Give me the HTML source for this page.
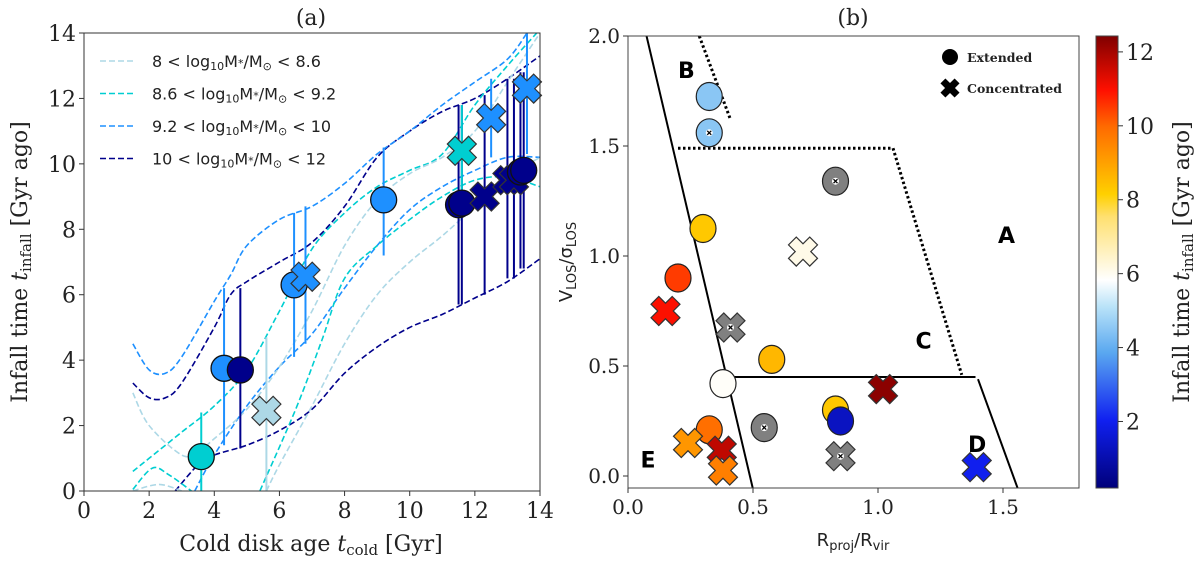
<!DOCTYPE html>
<html><head><meta charset="utf-8"><style>
body{margin:0;background:#fff;}
svg text{font-family:"DejaVu Serif","Liberation Serif",serif;}
.sans{font-family:"DejaVu Sans","Liberation Sans",sans-serif !important;}
</style></head><body>
<svg id="fig" width="1200" height="559" viewBox="0 0 1200 559" xmlns="http://www.w3.org/2000/svg">
<defs>
<linearGradient id="cmap" x1="0" y1="1" x2="0" y2="0">
<stop offset="0" stop-color="#00007a"/>
<stop offset="0.15" stop-color="#1020f0"/>
<stop offset="0.3" stop-color="#5aa8f0"/>
<stop offset="0.4" stop-color="#b8e2f8"/>
<stop offset="0.46" stop-color="#ffffff"/>
<stop offset="0.6" stop-color="#ffe070"/>
<stop offset="0.65" stop-color="#ffd000"/>
<stop offset="0.8" stop-color="#ff6a00"/>
<stop offset="0.88" stop-color="#ff1000"/>
<stop offset="1" stop-color="#800000"/>
</linearGradient>
</defs>
<g id="pa"></g>
<g id="pb"></g>
</svg>
<script>
// ---------- Panel (a) data ----------
const aPointX = [3.6, 4.3, 4.8, 5.6, 6.45, 6.8, 9.2, 11.5, 11.6, 11.6, 12.5, 12.3, 13.0, 13.2, 13.4, 13.5, 13.6];
const aPointY = [1.05, 3.75, 3.7, 2.45, 6.3, 6.55, 8.9, 8.75, 8.8, 10.4, 11.4, 9.0, 9.5, 9.5, 9.75, 9.8, 12.3];
const aErrLo = [0, 1.4, 1.3, 0, 4.1, 4.5, 7.2, 5.7, 5.7, 8.7, 10.2, 6.0, 6.5, 6.5, 6.8, 6.8, 10.3];
const aErrHi = [2.4, 6.2, 6.2, 4.7, 8.5, 8.7, 10.5, 11.8, 11.8, 11.8, 12.6, 12.1, 12.6, 12.6, 12.8, 12.8, 14];
const aShape = ['o','o','o','x','o','x','o','o','o','x','x','x','x','x','o','o','x'];
const aBin = [1,2,3,0,2,2,2,3,3,1,2,3,3,3,3,3,2];
const binColors = ['#add8e6','#00ced1','#1e90ff','#00008b'];
const binLabels = [['8','8.6'],['8.6','9.2'],['9.2','10'],['10','12']];
const curveX = {
 navyU:[1.5,2,2.5,3,4,4.5,5,6,7,8,9,10,11,12,13,14],
 navyL:[2.8,3.5,4,5,6,7,8,9,10,11,12,13,14],
 blueU:[1.5,2,2.5,3,4,4.5,5,6,7,8,9,10,11,12,13,13.6],
 blueL:[3.4,4,5,6,7,8,9,10,11,12,13,14],
 cyanU:[1.5,2,3,4,5,6,7,8,9,10,11,12,13,13.9],
 cyanL1:[1.5,2.1,2.6,3.3],
 cyanL2:[5.4,6.5,7.3,8,9,10,11,12,13,14],
 lightU:[1.5,2,3,3.5,4,5,6,7,8,9,10,11,12,13,14],
 lightL1:[1.5,2.3,3],
 lightL2:[5.6,6,7,8,9,10,11,12,13,14]
};
const curveY = {
 navyU:[3.3,2.85,2.85,3.3,5.0,6.0,6.4,7.0,7.6,8.7,10.2,11.0,11.6,12.0,12.6,13.3],
 navyL:[0,0.8,1.1,1.4,1.85,2.5,3.6,4.4,5.0,5.4,5.9,6.4,7.1],
 blueU:[4.5,3.7,3.6,4.1,5.8,6.6,7.5,8.3,8.7,9.4,10.3,11.0,11.8,12.5,13.2,14],
 blueL:[0,1.1,2.6,3.8,4.8,6.2,7.5,8.6,9.3,9.8,10.2,10.2],
 cyanU:[0.6,1.0,1.8,2.6,3.7,5.5,7.4,8.5,9.3,9.8,10.3,11.8,13.0,14],
 cyanL1:[0.05,0.7,0.5,0],
 cyanL2:[0,2.5,4.6,6.5,7.5,8.3,9.0,9.5,9.6,9.3],
 lightU:[3.0,2.0,1.1,1.2,1.6,2.5,3.8,5.5,7.5,8.9,9.7,10.2,11.0,12.5,14],
 lightL1:[0,0.2,0],
 lightL2:[0,0.8,2.6,4.5,6.0,7.0,7.8,8.7,9.6,10.2]
};
const curveBin = {navyU:3,navyL:3,blueU:2,blueL:2,cyanU:1,cyanL1:1,cyanL2:1,lightU:0,lightL1:0,lightL2:0};
const aTicks = [0,2,4,6,8,10,12,14];

// ---------- Panel (b) data ----------
const bX = [0.325,0.325,0.83,0.30,0.70,0.20,0.15,0.41,0.575,0.38,1.02,0.83,0.85,0.545,0.325,0.24,0.375,0.38,0.85,1.395];
const bY = [1.725,1.56,1.34,1.125,1.02,0.90,0.75,0.675,0.53,0.42,0.395,0.30,0.25,0.22,0.21,0.15,0.115,0.025,0.09,0.04];
const bInfall = [4.5,4.5,null,8.3,6.1,10.5,11.0,null,8.6,5.9,12.3,8.3,1.3,null,9.9,9.2,11.7,9.6,null,2.0];
const bShape = ['o','o','o','o','x','o','x','x','o','o','x','o','o','o','o','x','x','x','x','x'];
const bDot = [0,1,1,0,0,0,0,1,0,0,0,0,0,1,0,0,0,0,1,0];
const bXTicks = [0.0,0.5,1.0,1.5];
const bYTicks = [0.0,0.5,1.0,1.5,2.0];
const cbTicks = [2,4,6,8,10,12];
const regionLabels = ['B','A','C','D','E'];
const regionX = [0.2,1.48,1.15,1.36,0.05];
const regionY = [1.85,1.1,0.62,0.15,0.08];

const NS='http://www.w3.org/2000/svg';
function mk(tag, attrs, parent){const e=document.createElementNS(NS,tag);for(const k in attrs)e.setAttribute(k,attrs[k]);parent.appendChild(e);return e;}

const A={x0:84,x1:540,y0:491,y1:33};
const ax=v=>A.x0+(v/14)*(A.x1-A.x0);
const ay=v=>A.y0-(v/14)*(A.y0-A.y1);
const pa=document.getElementById('pa');
const clipA=mk('clipPath',{id:'clipA'},pa);
mk('rect',{x:A.x0,y:A.y1,width:A.x1-A.x0,height:A.y0-A.y1},clipA);

function smoothPath(xs,ys,fx,fy){
  const p=xs.map((x,i)=>[fx(x),fy(ys[i])]);
  let d='M'+p[0][0]+','+p[0][1];
  for(let i=0;i<p.length-1;i++){
    const p0=p[i-1]||p[i],p1=p[i],p2=p[i+1],p3=p[i+2]||p2;
    const c1=[p1[0]+(p2[0]-p0[0])/6,p1[1]+(p2[1]-p0[1])/6];
    const c2=[p2[0]-(p3[0]-p1[0])/6,p2[1]-(p3[1]-p1[1])/6];
    d+=' C'+c1[0]+','+c1[1]+' '+c2[0]+','+c2[1]+' '+p2[0]+','+p2[1];
  }
  return d;
}
const curvesG=mk('g',{'clip-path':'url(#clipA)'},pa);


for(const k in curveX){
  const c=mk('path',{d:smoothPath(curveX[k],curveY[k],ax,ay),fill:'none',stroke:binColors[curveBin[k]],'stroke-width':1.6,'stroke-dasharray':'6,3'},curvesG);
  
  
}
const ebG=mk('g',{'clip-path':'url(#clipA)'},pa);
for(let i=0;i<aPointX.length;i++){
  const l=mk('line',{x1:ax(aPointX[i]),x2:ax(aPointX[i]),y1:ay(aErrLo[i]),y2:ay(aErrHi[i]),stroke:binColors[aBin[i]],'stroke-width':2},ebG);
  
  
}
function crossPath(s,w){
  const pts=[[-w,-s],[w,-s],[w,-w],[s,-w],[s,w],[w,w],[w,s],[-w,s],[-w,w],[-s,w],[-s,-w],[-w,-w]];
  return 'M'+pts.map(p=>{const c=Math.SQRT1_2;return [(p[0]-p[1])*c,(p[0]+p[1])*c].join(',')}).join(' L')+' Z';
}
for(let i=0;i<aPointX.length;i++){
  const cx=ax(aPointX[i]),cy=ay(aPointY[i]);
  let m;
  if(aShape[i]==='o') m=mk('circle',{cx:cx,cy:cy,r:13,fill:binColors[aBin[i]],stroke:'#111','stroke-width':1.3},pa);
  else m=mk('path',{d:crossPath(15,5.5),transform:`translate(${cx},${cy})`,fill:binColors[aBin[i]],stroke:'#333','stroke-width':1.2},pa);
  
  
}
mk('rect',{x:A.x0,y:A.y1,width:A.x1-A.x0,height:A.y0-A.y1,fill:'none',stroke:'#333','stroke-width':1},pa);
aTicks.forEach(t=>{
  mk('line',{x1:ax(t),x2:ax(t),y1:A.y0,y2:A.y0+5,stroke:'#333'},pa);
  const tx=mk('text',{x:ax(t),y:A.y0+27,'text-anchor':'middle','font-size':22,fill:'#222'},pa);tx.textContent=t;
  
  
  mk('line',{x1:A.x0-5,x2:A.x0,y1:ay(t),y2:ay(t),stroke:'#333'},pa);
  const ty=mk('text',{x:A.x0-8,y:ay(t)+8,'text-anchor':'end','font-size':22,fill:'#222'},pa);ty.textContent=t;
  
  
});
binLabels.forEach((b,i)=>{
  const y=61+i*32.5;
  mk('line',{x1:100,x2:136,y1:y,y2:y,stroke:binColors[i],'stroke-width':1.6,'stroke-dasharray':'6,3'},pa);
  const t=mk('text',{x:152,y:y+6,'font-size':16,fill:'#222',class:'sans'},pa);
  t.innerHTML=`${b[0]} &lt; log<tspan font-size="11" dy="3">10</tspan><tspan dy="-3">M</tspan><tspan font-size="11">*</tspan>/M<tspan font-size="11" dy="3">⊙</tspan><tspan dy="-3"> &lt; ${b[1]}</tspan>`;
  
  
});
let t=mk('text',{x:311,y:25,'text-anchor':'middle','font-size':22,fill:'#222'},pa);t.textContent='(a)';


t=mk('text',{x:311,y:551,'text-anchor':'middle','font-size':22,fill:'#222'},pa);
t.innerHTML='Cold disk age <tspan font-style="italic">t</tspan><tspan font-size="15" dy="4">cold</tspan><tspan dy="-4"> [Gyr]</tspan>';


t=mk('text',{x:0,y:0,'text-anchor':'middle','font-size':22,fill:'#222',transform:'translate(27,262) rotate(-90)'},pa);
t.innerHTML='Infall time <tspan font-style="italic">t</tspan><tspan font-size="15" dy="4">infall</tspan><tspan dy="-4"> [Gyr ago]</tspan>';



// ---- Panel b
const B={x0:628,x1:1079,y0:488,y1:36};
const bx=v=>628+v*250;
const by=v=>476-v*220;
const pb=document.getElementById('pb');
const clipB=mk('clipPath',{id:'clipB'},pb);
mk('rect',{x:B.x0,y:B.y1,width:B.x1-B.x0,height:B.y0-B.y1},clipB);
const lg=mk('g',{'clip-path':'url(#clipB)',stroke:'#000','stroke-width':2,fill:'none'},pb);


mk('line',{x1:bx(0.07),y1:by(2.02),x2:bx(0.5),y2:by(-0.06)},lg);
mk('line',{x1:bx(0.42),y1:by(0.45),x2:bx(1.39),y2:by(0.45)},lg);
mk('line',{x1:bx(1.40),y1:by(0.44),x2:bx(1.56),y2:by(-0.06)},lg);
mk('polyline',{points:`${bx(0.285)},${by(2.0)} ${bx(0.41)},${by(1.62)}`,'stroke-dasharray':'2.5,2.5','stroke-width':3},lg);
mk('polyline',{points:`${bx(0.2)},${by(1.49)} ${bx(1.06)},${by(1.49)} ${bx(1.335)},${by(0.46)}`,'stroke-dasharray':'2.5,2.5','stroke-width':3},lg);
function cmapColor(v){
  const stops=[[0,[0,0,122]],[0.15,[16,32,240]],[0.3,[90,168,240]],[0.4,[184,226,248]],[0.46,[255,255,255]],[0.6,[255,224,112]],[0.65,[255,208,0]],[0.8,[255,106,0]],[0.88,[255,16,0]],[1,[128,0,0]]];
  const f=Math.max(0,Math.min(1,(v-0.2)/(12.43-0.2)));
  for(let i=0;i<stops.length-1;i++){if(f<=stops[i+1][0]){const a=stops[i],b=stops[i+1],u=(f-a[0])/(b[0]-a[0]);return 'rgb('+a[1].map((c,j)=>Math.round(c+(b[1][j]-c)*u)).join(',')+')';}}
  return 'rgb(128,0,0)';
}
for(let i=0;i<bX.length;i++){
  const cx=bx(bX[i]),cy=by(bY[i]);
  const col=bInfall[i]===null?'#808080':cmapColor(bInfall[i]);
  let m;
  if(bShape[i]==='o') m=mk('ellipse',{cx:cx,cy:cy,rx:13,ry:14,fill:col,stroke:'#222','stroke-width':1.2},pb);
  else m=mk('path',{d:crossPath(15,5.5),transform:`translate(${cx},${cy})`,fill:col,stroke:'#333','stroke-width':1.2},pb);
  
  
  if(bDot[i]){
    const d=mk('circle',{cx:cx,cy:cy,r:3.5,fill:'#fff'},pb);
    
    
    mk('path',{d:`M${cx-2},${cy-2}L${cx+2},${cy+2}M${cx+2},${cy-2}L${cx-2},${cy+2}`,stroke:'#000','stroke-width':1.3},pb);
  }
}
regionLabels.forEach((r,i)=>{
  const l=mk('text',{x:bx(regionX[i]),y:by(regionY[i])+9,'font-size':22,'font-weight':'bold',fill:'#000',class:'sans'},pb);l.textContent=r;
  
  
});
mk('rect',{x:B.x0,y:B.y1,width:B.x1-B.x0,height:B.y0-B.y1,fill:'none',stroke:'#444','stroke-width':1},pb);
bXTicks.forEach(v=>{
  mk('line',{x1:bx(v),x2:bx(v),y1:B.y0,y2:B.y0+5,stroke:'#333'},pb);
  const l=mk('text',{x:bx(v),y:B.y0+26,'text-anchor':'middle','font-size':20,fill:'#222'},pb);l.textContent=v.toFixed(1);
  
  
});
bYTicks.forEach(v=>{
  mk('line',{x1:B.x0-5,x2:B.x0,y1:by(v),y2:by(v),stroke:'#333'},pb);
  const l=mk('text',{x:B.x0-8,y:by(v)+7,'text-anchor':'end','font-size':20,fill:'#222'},pb);l.textContent=v.toFixed(1);
  
  
});
let lm=mk('circle',{cx:950,cy:57,r:8,fill:'#000'},pb);


lm=mk('path',{d:crossPath(10,3.5),transform:'translate(950,88)',fill:'#000'},pb);


t=mk('text',{x:967,y:62,'font-size':12.5,'font-weight':'bold',fill:'#222'},pb);t.textContent='Extended';


t=mk('text',{x:967,y:93,'font-size':12.5,'font-weight':'bold',fill:'#222'},pb);t.textContent='Concentrated';


t=mk('text',{x:853,y:25,'text-anchor':'middle','font-size':22,fill:'#222'},pb);t.textContent='(b)';


t=mk('text',{x:853,y:546,'text-anchor':'middle','font-size':18,fill:'#222',class:'sans'},pb);
t.innerHTML='R<tspan font-size="13" dy="4">proj</tspan><tspan dy="-4">/R</tspan><tspan font-size="13" dy="4">vir</tspan>';


t=mk('text',{x:0,y:0,'text-anchor':'middle','font-size':18,fill:'#222',class:'sans',transform:'translate(572,262) rotate(-90)'},pb);
t.innerHTML='V<tspan font-size="13" dy="4">LOS</tspan><tspan dy="-4">/σ</tspan><tspan font-size="13" dy="4">LOS</tspan>';


const cb=mk('rect',{x:1096,y:36,width:22,height:452,fill:'url(#cmap)',stroke:'#444','stroke-width':1},pb);


const cby=v=>36+(12.43-v)/(12.43-0.2)*452;
cbTicks.forEach(v=>{
  mk('line',{x1:1118,x2:1123,y1:cby(v),y2:cby(v),stroke:'#333'},pb);
  const l=mk('text',{x:1126,y:cby(v)+8,'font-size':22,fill:'#222'},pb);l.textContent=v;
  
  
});
t=mk('text',{x:0,y:0,'text-anchor':'middle','font-size':22,fill:'#222',transform:'translate(1189,262) rotate(-90)'},pb);
t.innerHTML='Infall time <tspan font-style="italic">t</tspan><tspan font-size="15" dy="4">infall</tspan><tspan dy="-4"> [Gyr ago]</tspan>';


</script>
</body></html>
